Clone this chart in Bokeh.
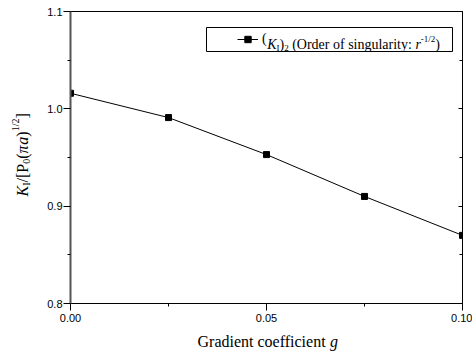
import math

from bokeh.plotting import figure
from bokeh.layouts import row, column
from bokeh.models import (Range1d, FixedTicker, NumeralTickFormatter, LinearAxis,
                          CustomJSTickFormatter, Label, Legend, LegendItem, BoxAnnotation)
from bokeh.core.properties import value
from bokeh.embed import file_html
from bokeh.resources import INLINE

# Normalised mode-I stress intensity factor versus gradient coefficient g
g_values = [0.0, 0.025, 0.05, 0.075, 0.10]
k_values = [1.016, 0.991, 0.953, 0.910, 0.870]

x_ticks = [0.0, 0.05, 0.10]
x_minor_ticks = [0.025, 0.075]
y_ticks = [0.8, 0.9, 1.0, 1.1]
y_minor_ticks = [0.85, 0.95, 1.05]

SERIF = "Liberation Serif"
SANS = "Liberation Sans"

W, H = 472, 354
YT_W = 40            # strip holding the vertical axis title
XT_H = 25            # strip holding the horizontal axis title
MAIN_W, MAIN_H = W - YT_W, H - XT_H
B_LEFT, B_RIGHT, B_TOP, B_BOTTOM = 30, 10, 11, 26
FRAME_LEFT = YT_W + B_LEFT          # page x of the plot frame's left edge
FRAME_BOTTOM = MAIN_H - B_BOTTOM    # page y of the plot frame's bottom edge


def fx(cx):
    """Page x (pixels from left) -> frame-relative screen x."""
    return cx - FRAME_LEFT


def fy(cy):
    """Page y (pixels from top) -> frame-relative screen y (upwards)."""
    return FRAME_BOTTOM - cy


fig = figure(width=MAIN_W, height=MAIN_H, output_backend="svg", toolbar_location=None,
             tools="", x_range=Range1d(0, 0.1), y_range=Range1d(0.8, 1.1),
             min_border_left=B_LEFT, min_border_right=B_RIGHT,
             min_border_top=B_TOP, min_border_bottom=B_BOTTOM)
fig.grid.visible = False
fig.background_fill_color = "white"
fig.border_fill_color = "white"
fig.outline_line_color = "black"
fig.outline_line_width = 1

# bottom axis
xa = fig.xaxis[0]
xa.ticker = FixedTicker(ticks=x_ticks, minor_ticks=x_minor_ticks)
xa.formatter = NumeralTickFormatter(format="0.00")
xa.axis_line_color = "black"
xa.major_tick_in = 0
xa.major_tick_out = 7
xa.minor_tick_in = 0
xa.minor_tick_out = 3
xa.major_label_standoff = 3
xa.major_label_text_font = SANS
xa.major_label_text_font_size = "11px"
xa.major_label_text_color = "black"

# left axis
ya = fig.yaxis[0]
ya.ticker = FixedTicker(ticks=y_ticks, minor_ticks=y_minor_ticks)
ya.formatter = NumeralTickFormatter(format="0.0")
ya.axis_line_color = "#555555"
ya.axis_line_width = 2
ya.major_tick_in = 0
ya.major_tick_out = 7
ya.minor_tick_in = 0
ya.minor_tick_out = 3
ya.major_label_standoff = 1
ya.major_label_text_font = SANS
ya.major_label_text_font_size = "11px"
ya.major_label_text_color = "black"

# right axis: inward ticks only, no labels
ra = LinearAxis(ticker=FixedTicker(ticks=y_ticks, minor_ticks=y_minor_ticks),
                formatter=CustomJSTickFormatter(code="return ''"),
                major_tick_in=4, major_tick_out=0, minor_tick_in=3, minor_tick_out=0,
                axis_line_color="black")
fig.add_layout(ra, "right")

line_r = fig.line(g_values, k_values, line_color="black", line_width=1)
pts_r = fig.scatter(g_values, k_values, marker="square", size=6,
                    fill_color="black", line_color="black")

# advance widths (em) of the serif face, for laying out mixed-style runs
SERIF_W = {" ": .25, "(": .333, ")": .333, "/": .278, "[": .333, "]": .333, ":": .278,
           "-": .333, ".": .25, "O": .722, "G": .722, "P": .556, "K": .722, "I": .333,
           "a": .444, "c": .444, "d": .5, "e": .444, "f": .333, "g": .5, "i": .278,
           "l": .278, "n": .5, "o": .5, "r": .333, "s": .389, "t": .278, "u": .5,
           "y": .5, "π": .55}
ITALIC_W = {"K": .667, "a": .5, "r": .389, "g": .5, "π": .55}


def text_width(s, size, style):
    w = 0.0
    for ch in s:
        if style == "italic" and ch in ITALIC_W:
            w += ITALIC_W[ch]
        elif ch.isdigit():
            w += .5
        else:
            w += SERIF_W.get(ch, .5)
    return w * size


def add_runs(target, x0, y0, runs, vertical=False):
    """Lay out consecutive text runs (text, size, style, baseline shift)."""
    pos = 0.0
    for text, size, style, shift in runs:
        lead = len(text) - len(text.lstrip(" "))
        pos += lead * SERIF_W[" "] * size
        text = text.lstrip(" ")
        if vertical:
            x, y, ang = x0 - shift, y0 + pos, math.pi / 2
        else:
            x, y, ang = x0 + pos, y0 + shift, 0
        target.add_layout(Label(x=x, y=y, x_units="screen", y_units="screen", text=text,
                                angle=ang, text_font=SERIF, text_font_size=f"{size}px",
                                text_font_style=style, text_baseline="alphabetic",
                                text_align="left", text_color="black"))
        pos += text_width(text, size, style)


# legend frame, sample glyph and formatted label
box = BoxAnnotation(left=fx(206), right=fx(452), top=fy(27), bottom=fy(51),
                    left_units="screen", right_units="screen",
                    top_units="screen", bottom_units="screen",
                    fill_color="white", fill_alpha=1,
                    line_color="black", line_alpha=1, line_width=1)
fig.add_layout(box)

legend = Legend(items=[LegendItem(label=value("("), renderers=[line_r, pts_r])],
                location=(fx(237), fy(47)), padding=0, margin=0, spacing=0,
                glyph_width=21, glyph_height=16, label_width=0, label_height=16,
                label_standoff=4, label_text_font=SERIF, label_text_font_size="14px",
                label_text_color="black",
                border_line_color=None, background_fill_alpha=0)
fig.add_layout(legend)

add_runs(fig, fx(262) + text_width("(", 14, "normal"), fy(44), [
    ("K", 14, "italic", 0), ("I", 9, "normal", -3),
    (")", 14, "normal", 0), ("2", 9, "normal", -3),
    (" (Order of singularity: ", 14, "normal", 0), ("r", 14, "italic", 0),
    ("-1/2", 9, "normal", 6), (")", 14, "normal", 0),
])


def title_strip(width, height):
    strip = figure(width=width, height=height, output_backend="svg",
                   toolbar_location=None, tools="", x_axis_type=None, y_axis_type=None,
                   x_range=Range1d(0, width), y_range=Range1d(0, height),
                   min_border=0)
    strip.grid.visible = False
    strip.outline_line_color = None
    strip.background_fill_color = "white"
    strip.border_fill_color = "white"
    return strip


# y axis title: K_I / [P_0 (pi a)^(1/2)]
ytitle = title_strip(YT_W, MAIN_H)
add_runs(ytitle, 22, MAIN_H - 222, [
    ("K", 16, "italic", 0), ("I", 10, "normal", -4), ("/", 16, "normal", 0),
    ("[", 16, "normal", 0), ("P", 16, "normal", 0), ("0", 10, "normal", -4),
    ("(", 16, "normal", 0), ("π", 16, "italic", 0), ("a", 16, "italic", 0),
    (")", 16, "normal", 0), ("1/2", 10, "normal", 7), ("]", 16, "normal", 0),
], vertical=True)

# x axis title
xtitle = title_strip(W, XT_H)
add_runs(xtitle, 197, H - 341, [
    ("Gradient coefficient ", 16, "normal", 0), ("g", 16, "italic", 0),
])

p = column(row(ytitle, fig, spacing=0), xtitle, spacing=0)

open("out.html", "w").write(file_html(p, INLINE))
